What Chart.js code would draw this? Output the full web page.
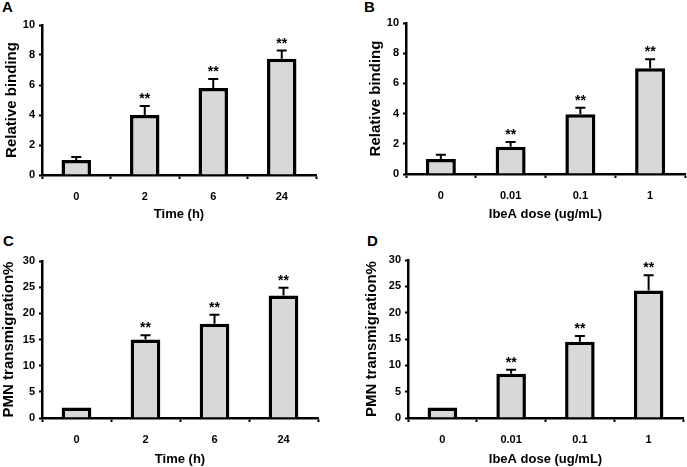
<!DOCTYPE html>
<html>
<head>
<meta charset="utf-8">
<script src="https://cdn.jsdelivr.net/npm/chart.js@4/dist/chart.umd.min.js"></script>
<style>
  html, body { margin: 0; padding: 0; background: #fff; }
  body { width: 687px; height: 467px; position: relative; overflow: hidden; }
  .panel { position: absolute; }
  .letter { position: absolute; font: bold 15px "Liberation Sans", Arial, sans-serif; color: #000; }
</style>
</head>
<body>
<div class="letter" style="left:2px;top:-2px">A</div>
<div class="letter" style="left:364px;top:-2px">B</div>
<div class="letter" style="left:3px;top:232px">C</div>
<div class="letter" style="left:367px;top:232px">D</div>

<div class="panel" style="left:0;top:0;width:320px;height:222px"><canvas id="cA"></canvas></div>
<div class="panel" style="left:345px;top:0;width:342px;height:222px"><canvas id="cB"></canvas></div>
<div class="panel" style="left:0;top:236px;width:322px;height:231px"><canvas id="cC"></canvas></div>
<div class="panel" style="left:345px;top:236px;width:342px;height:231px"><canvas id="cD"></canvas></div>

<script>
// categories
const timeLabels = ["0", "2", "6", "24"];
const doseLabels = ["0", "0.01", "0.1", "1"];

// A : relative binding vs time
const bindingTime = [1.0, 4.0, 5.8, 7.75];
const bindingTimeErr = [0.2, 0.6, 0.6, 0.55];
// B : relative binding vs IbeA dose
const bindingDose = [1.0, 1.8, 3.95, 7.0];
const bindingDoseErr = [0.28, 0.32, 0.44, 0.6];
// C : PMN transmigration vs time
const pmnTime = [2.0, 15.0, 18.0, 23.4];
const pmnTimeErr = [0, 0.8, 1.75, 1.5];
// D : PMN transmigration vs dose
const pmnDose = [2.0, 8.4, 14.5, 24.2];
const pmnDoseErr = [0, 0.75, 1.05, 2.9];

const stars = ["", "**", "**", "**"];

const FONT = "'Liberation Sans', Arial, sans-serif";

// error bars (upper only) + significance stars
const errorBars = {
  id: "errorBars",
  afterDatasetsDraw(chart, args, opts) {
    const { ctx } = chart;
    const y = chart.scales.y;
    const meta = chart.getDatasetMeta(0);
    const values = chart.data.datasets[0].data;
    ctx.save();
    meta.data.forEach((bar, i) => {
      const err = opts.errors[i] || 0;
      const top = y.getPixelForValue(values[i] + err);
      if (err > 0) {
        ctx.strokeStyle = "#000";
        ctx.lineWidth = 2;
        ctx.beginPath();
        ctx.moveTo(bar.x, bar.y);
        ctx.lineTo(bar.x, top);
        ctx.moveTo(bar.x - 5, top);
        ctx.lineTo(bar.x + 5, top);
        ctx.stroke();
      }
      if (opts.stars[i]) {
        ctx.fillStyle = "#000";
        ctx.font = "bold 14px " + FONT;
        ctx.textAlign = "center";
        ctx.textBaseline = "alphabetic";
        ctx.fillText(opts.stars[i], bar.x, top - 3);
      }
    });
    ctx.restore();
  },
};

function makeChart(id, labels, values, errors, cfg) {
  const ctx = document.getElementById(id).getContext("2d");
  return new Chart(ctx, {
    type: "bar",
    data: {
      labels: labels,
      datasets: [
        {
          data: values,
          backgroundColor: "#d8d8d8",
          borderColor: "#000",
          borderWidth: 3.5,
          categoryPercentage: 1,
          barPercentage: 0.43,
        },
      ],
    },
    options: {
      responsive: true,
      maintainAspectRatio: false,
      animation: false,
      layout: { padding: { top: cfg.top, right: cfg.right, left: 0, bottom: 0 } },
      plugins: {
        legend: { display: false },
        tooltip: { enabled: false },
        errorBars: { errors: errors, stars: stars },
      },
      scales: {
        x: {
          grid: { display: true, drawOnChartArea: false, drawTicks: true, tickLength: 4, tickColor: "#000", tickWidth: 2, offset: true },
          border: { color: "#000", width: 2.5 },
          ticks: { color: "#000", font: { family: FONT, size: 11, weight: "bold" }, padding: 11 },
          title: { display: true, text: cfg.xTitle, color: "#000", font: { family: FONT, size: 13, weight: "bold" }, padding: { top: 0, bottom: 0 } },
          afterFit(s) { s.height = cfg.xHeight; },
        },
        y: {
          min: 0,
          max: cfg.max,
          grid: { display: true, drawOnChartArea: false, drawTicks: true, tickLength: 3, tickColor: "#000", tickWidth: 2 },
          border: { color: "#000", width: 2.5 },
          ticks: { stepSize: cfg.step, color: "#000", font: { family: FONT, size: 11, weight: "bold" }, padding: 4 },
          title: { display: true, text: cfg.yTitle, color: "#000", font: { family: FONT, size: 15, weight: "bold" }, padding: { top: cfg.yTitlePad, bottom: 0 } },
          afterFit(s) { s.width = cfg.yWidth; },
        },
      },
    },
    plugins: [errorBars],
  });
}

makeChart("cA", timeLabels, bindingTime, bindingTimeErr,
  { max: 10, step: 2, top: 25, right: 4, xHeight: 47, yWidth: 42, yTitlePad: 3, xTitle: "Time (h)", yTitle: "Relative binding" });
makeChart("cB", doseLabels, bindingDose, bindingDoseErr,
  { max: 10, step: 2, top: 23, right: 2, xHeight: 48, yWidth: 61, yTitlePad: 22, xTitle: "IbeA dose (ug/mL)", yTitle: "Relative binding" });
makeChart("cC", timeLabels, pmnTime, pmnTimeErr,
  { max: 30, step: 5, top: 25, right: 4, xHeight: 49, yWidth: 42, yTitlePad: 0, xTitle: "Time (h)", yTitle: "PMN transmigration%" });
makeChart("cD", doseLabels, pmnDose, pmnDoseErr,
  { max: 30, step: 5, top: 24, right: 4, xHeight: 49, yWidth: 63, yTitlePad: 18, xTitle: "IbeA dose (ug/mL)", yTitle: "PMN transmigration%" });
</script>
</body>
</html>
